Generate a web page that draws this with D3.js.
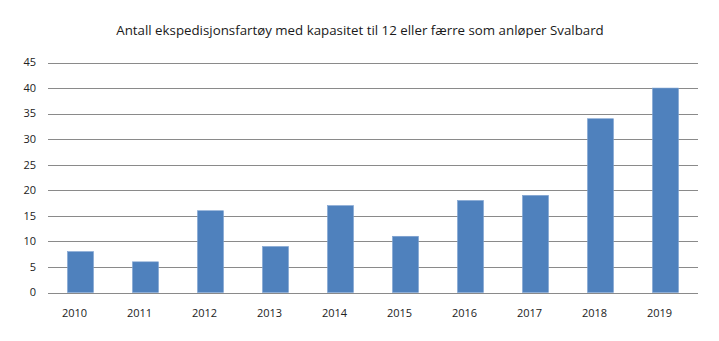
<!DOCTYPE html>
<html>
<head>
<meta charset="utf-8">
<script src="https://cdn.jsdelivr.net/npm/d3@7"></script>
<style>
  html, body { margin: 0; padding: 0; background: #fff; }
  svg { display: block; font-family: "Open Sans", "Noto Sans", sans-serif; }
</style>
</head>
<body>
<svg id="chart" width="719" height="341"></svg>
<script>
const years = ["2010","2011","2012","2013","2014","2015","2016","2017","2018","2019"];
const vessels = [8, 6, 16, 9, 17, 11, 18, 19, 34, 40];
const yTicks = [0, 5, 10, 15, 20, 25, 30, 35, 40, 45];
const title = "Antall ekspedisjonsfartøy med kapasitet til 12 eller færre som anløper Svalbard";

const svg = d3.select("#chart");
const plot = { left: 48, right: 698, top: 62.5, bottom: 292.5 };

const x = d3.scaleBand().domain(years).range([plot.left, plot.right]).paddingInner(0.6).paddingOuter(0.3);
const y = d3.scaleLinear().domain([0, 45]).range([plot.bottom, plot.top]);

svg.append("text")
  .attr("x", 360).attr("y", 35)
  .attr("text-anchor", "middle")
  .attr("font-size", 13.3)
  .attr("fill", "#1a1a1a")
  .text(title);

// horizontal gridlines
svg.append("g").selectAll("line").data(yTicks).join("line")
  .attr("x1", plot.left).attr("x2", plot.right)
  .attr("y1", d => Math.round(y(d)) + 0.5).attr("y2", d => Math.round(y(d)) + 0.5)
  .attr("stroke", "#8a8a8a").attr("stroke-width", 1);

// y tick labels
svg.append("g").selectAll("text").data(yTicks).join("text")
  .attr("x", 36).attr("y", d => y(d))
  .attr("dy", "0.35em")
  .attr("text-anchor", "end")
  .attr("font-size", 11)
  .attr("fill", "#222")
  .text(d => d);

// bars
svg.append("g").selectAll("rect").data(vessels).join("rect")
  .attr("x", (d, i) => x(years[i]))
  .attr("width", x.bandwidth())
  .attr("y", d => y(d))
  .attr("height", d => y(0) - y(d))
  .attr("fill", "#4f81bd")
  .attr("stroke", "#7fa2d1").attr("stroke-width", 0.6);

// year labels, set slightly left of each bar's centre
svg.append("g").selectAll("text").data(years).join("text")
  .attr("x", d => x(d) + x.bandwidth() / 2 - 6)
  .attr("y", 317)
  .attr("text-anchor", "middle")
  .attr("font-size", 11)
  .attr("fill", "#222")
  .text(d => d);
</script>
</body>
</html>
